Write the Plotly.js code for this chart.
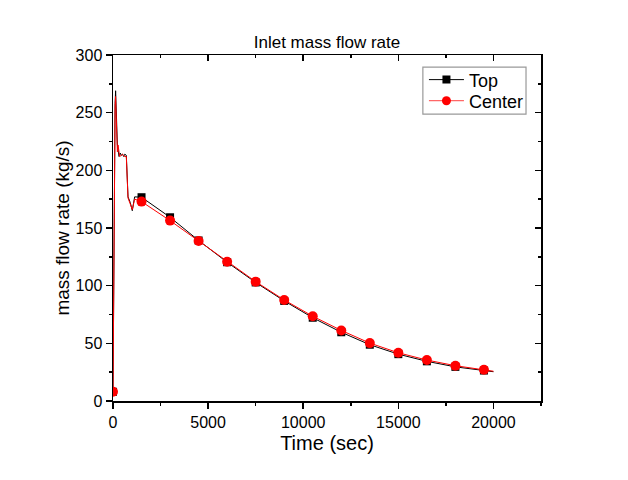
<!DOCTYPE html>
<html>
<head>
<meta charset="utf-8">
<script src="https://cdn.plot.ly/plotly-3.0.1.min.js"></script>
<style>html,body{margin:0;padding:0;background:#fff;}#chart{width:628px;height:480px;}</style>
</head>
<body>
<div id="chart"></div>
<script>
// ---- data ----
const topTime   = [0, 30, 70, 110, 137, 180, 230, 316, 380, 437, 500, 560, 620, 700, 790, 910, 1015, 1137, 1300, 1500, 3000, 4500, 6000, 7500, 9000, 10500, 12000, 13500, 15000, 16500, 18000, 19500, 20000];
const topFlow   = [8, 100, 200, 258, 269, 243, 222, 212, 215, 213, 214, 212, 214, 213, 177, 172, 165, 177, 177, 176.7, 159.3, 139.2, 120.3, 102.8, 86.8, 72.2, 59.6, 48.8, 40.6, 34.4, 29.6, 26.4, 25.4];
const centerTime = [0, 30, 70, 110, 135, 180, 230, 265, 300, 350, 437, 500, 600, 700, 790, 910, 1015, 1137, 1300, 1500, 3000, 4500, 6000, 7500, 9000, 10500, 12000, 13500, 15000, 16500, 18000, 19500, 20000];
const centerFlow = [8, 100, 200, 255, 264, 228, 216, 222, 215, 212, 213, 214, 212, 212, 176, 170, 166, 175, 174, 172.9, 156.4, 138.8, 120.8, 103.5, 87.6, 73.5, 61.2, 50.2, 41.8, 35.5, 30.6, 27.1, 25.8];
const markerTimes = [0, 1500, 3000, 4500, 6000, 7500, 9000, 10500, 12000, 13500, 15000, 16500, 18000, 19500];
const seriesNames = ["Top", "Center"];
const xTickVals = [0, 5000, 10000, 15000, 20000];
const xTickText = ["0", "5000", "10000", "15000", "20000"];
const yTickVals = [0, 50, 100, 150, 200, 250, 300];

function pick(t, v) {
  const xs = [], ys = [];
  t.forEach((tt, i) => { if (markerTimes.includes(tt)) { xs.push(tt); ys.push(v[i]); } });
  return {xs, ys};
}
const topM = pick(topTime, topFlow);
const cenM = pick(centerTime, centerFlow);

const F = "Liberation Sans, Arial, sans-serif";
const traces = [
  {x: topTime, y: topFlow, mode: "lines", line: {color: "#000", width: 1}, showlegend: false, hoverinfo: "skip"},
  {x: topM.xs, y: topM.ys, mode: "markers", marker: {symbol: "square", color: "#000", size: 8}, showlegend: false},
  {x: centerTime, y: centerFlow, mode: "lines", line: {color: "#ff0000", width: 1}, showlegend: false, hoverinfo: "skip"},
  {x: cenM.xs, y: cenM.ys, mode: "markers", marker: {symbol: "circle", color: "#ff0000", size: 10}, showlegend: false},
  {x: [null], y: [null], name: seriesNames[0], legend: "legend", mode: "lines+markers", line: {color: "#000", width: 1}, marker: {symbol: "square", color: "#000", size: 8}},
  {x: [null], y: [null], name: seriesNames[1], legend: "legend2", mode: "lines+markers", line: {color: "#ff4040", width: 1}, marker: {symbol: "circle", color: "#ff0000", size: 9}},
  // mirror axes carriers
  {x: [null], y: [null], xaxis: "x2", yaxis: "y2", showlegend: false, hoverinfo: "skip"}
];

const legFont = {family: F, size: 18, color: "#000"};
const layout = {
  width: 628, height: 480,
  margin: {l: 113, r: 87, t: 55, b: 79},
  paper_bgcolor: "#fff", plot_bgcolor: "#fff",
  font: {family: F, color: "#000", size: 16},
  title: {text: "Inlet mass flow rate", font: {family: F, size: 17, color: "#000"}, x: 0.5, xref: "paper", xanchor: "center", y: 0.912, yanchor: "middle"},
  showlegend: true,
  legend: {x: 0.7265, xanchor: "left", y: 0.928, yanchor: "middle", bgcolor: "rgba(0,0,0,0)", borderwidth: 0, font: legFont, itemwidth: 35},
  legend2: {x: 0.7265, xanchor: "left", y: 0.867, yanchor: "middle", bgcolor: "rgba(0,0,0,0)", borderwidth: 0, font: legFont, itemwidth: 35},
  shapes: [
    {type: "rect", xref: "paper", yref: "paper", x0: 0.724, x1: 0.965, y0: 0.829, y1: 0.965, line: {color: "#999", width: 1.2}, fillcolor: "#fff", layer: "below"}
  ],
  xaxis: {
    range: [0, 22500], tickvals: xTickVals, ticktext: xTickText, ticks: "outside", ticklen: 6, tickwidth: 1.5, tickcolor: "#000",
    minor: {dtick: 2500, tick0: 0, ticks: "outside", ticklen: 3, tickwidth: 1.5, tickcolor: "#000", showgrid: false},
    showline: true, linecolor: "#000", linewidth: 1.5, showgrid: false, zeroline: false,
    tickfont: {family: F, size: 16, color: "#000"},
    title: {text: "Time (sec)", font: {family: F, size: 20, color: "#000"}, standoff: 6}
  },
  yaxis: {
    range: [0, 300], tickvals: yTickVals, ticks: "outside", ticklen: 6, tickwidth: 1.5, tickcolor: "#000",
    minor: {dtick: 25, tick0: 0, ticks: "outside", ticklen: 3, tickwidth: 1.5, tickcolor: "#000", showgrid: false},
    showline: true, linecolor: "#000", linewidth: 1.5, showgrid: false, zeroline: false,
    tickfont: {family: F, size: 16, color: "#000"},
    title: {text: "mass flow rate (kg/s)", font: {family: F, size: 19, color: "#000"}, standoff: 1}
  },
  xaxis2: {
    overlaying: "x", side: "top", range: [0, 22500], tickvals: xTickVals, ticks: "inside", ticklen: 6, tickwidth: 1.5, tickcolor: "#000",
    minor: {dtick: 2500, tick0: 0, ticks: "inside", ticklen: 3, tickwidth: 1.5, tickcolor: "#000", showgrid: false},
    showticklabels: false, showline: true, linecolor: "#000", linewidth: 1.5, showgrid: false, zeroline: false
  },
  yaxis2: {
    overlaying: "y", side: "right", range: [0, 300], tickvals: yTickVals, ticks: "inside", ticklen: 6, tickwidth: 1.5, tickcolor: "#000",
    minor: {dtick: 25, tick0: 0, ticks: "inside", ticklen: 3, tickwidth: 1.5, tickcolor: "#000", showgrid: false},
    showticklabels: false, showline: true, linecolor: "#000", linewidth: 1.5, showgrid: false, zeroline: false
  }
};

Plotly.newPlot("chart", traces, layout, {staticPlot: true, displayModeBar: false});
</script>
</body>
</html>
